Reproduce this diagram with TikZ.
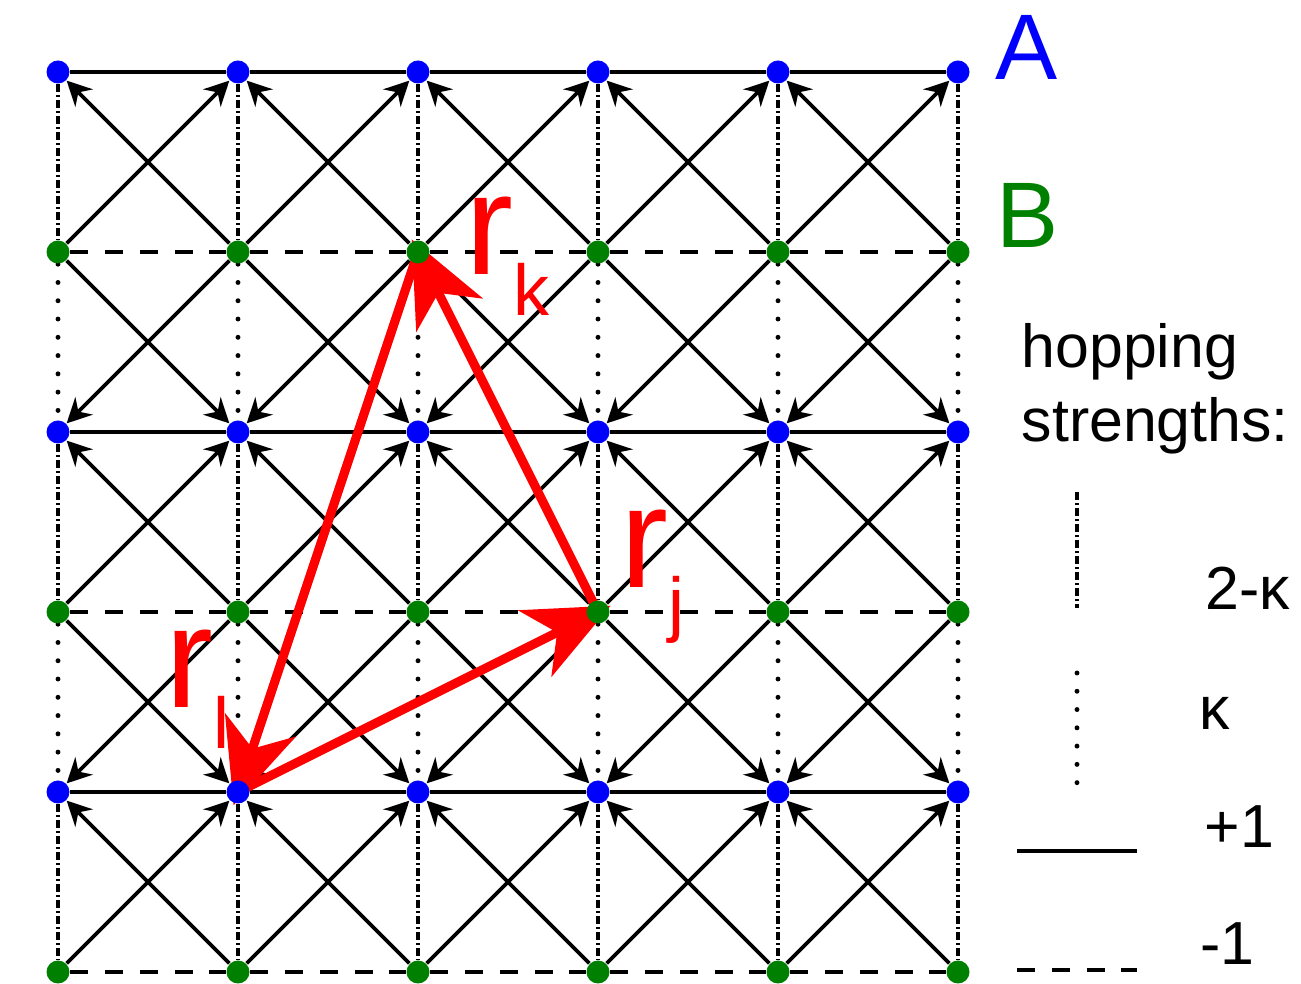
\documentclass[tikz,border=0pt]{standalone}
\usepackage{fontspec}
\setmainfont{Liberation Sans}
\usetikzlibrary{arrows.meta}

\definecolor{siteblue}{RGB}{0,0,255}
\definecolor{sitegreen}{RGB}{0,128,0}
\definecolor{vecred}{RGB}{255,0,0}

\pgfdeclarelayer{background}
\pgfsetlayers{background,main}

% position vector with subscript
\newcommand\posvec[1]{r\raisebox{-0.28em}{\fontsize{20.5}{20.5}\selectfont #1}}

\begin{document}
\begin{tikzpicture}[
    siteA/.style={circle, fill=siteblue, inner sep=0pt, minimum size=0.23cm},
    siteB/.style={circle, fill=sitegreen, inner sep=0pt, minimum size=0.23cm},
    hopplus/.style={line width=1.1pt},
    hopminus/.style={line width=1.1pt, dash pattern=on 5.1pt off 4.8pt},
    hoptwo/.style={line width=1.1pt, dash pattern=on 2.3pt off 0.85pt on 0.55pt off 0.85pt},
    hopkappa/.style={line width=1.4pt, line cap=round, dash pattern=on 0pt off 5.2pt},
    hopdiag/.style={line width=1.05pt, -{Stealth[length=7pt,width=7pt]}},
    vecarrow/.style={vecred, line width=2.6pt, -{Stealth[length=24pt,width=21pt,inset=7pt]}, shorten >=-4pt},
    veclabel/.style={text=vecred, anchor=base west, inner sep=0pt, font=\fontsize{41}{41}\selectfont},
    sublabel/.style={anchor=base west, inner sep=0pt, font=\fontsize{26.5}{26.5}\selectfont},
    keylabel/.style={anchor=base west, inner sep=0pt, font=\fontsize{17.3}{21.3}\selectfont}
]

% Canvas
\useasboundingbox (0,0) rectangle (13.01,9.84);

% Spacing of the lattice
\def\gap{1.8}

% Lattice sites: A on even rows, B on odd rows
\foreach \i in {0,...,5} {
  \foreach \j in {0,2,4}
    \node[siteA] (n\i\j) at ({0.58+\gap*\i}, {9.12-\gap*\j}) {};
  \foreach \j in {1,3,5}
    \node[siteB] (n\i\j) at ({0.58+\gap*\i}, {9.12-\gap*\j}) {};
}

\begin{pgfonlayer}{background}
% Horizontal bonds
\foreach \i [evaluate=\i as \k using int(\i+1)] in {0,...,4} {
  \foreach \j in {0,2,4} \draw[hopplus] (n\i\j) -- (n\k\j);
  \foreach \j in {1,3,5} \draw[hopminus] (n\i\j) -- (n\k\j);
}

% Vertical bonds
\foreach \i in {0,...,5} {
  \foreach \j [evaluate=\j as \m using int(\j+1)] in {0,2,4} \draw[hoptwo] (n\i\j) -- (n\i\m);
  \foreach \j [evaluate=\j as \m using int(\j+1)] in {1,3} \draw[hopkappa] (n\i\j) -- (n\i\m);
}

% Diagonal bonds, pointing from B to A
\foreach \i [evaluate=\i as \k using int(\i+1)] in {0,...,4} {
  \foreach \j [evaluate=\j as \m using int(\j+1)] in {0,2,4} {
    \draw[hopdiag] (n\k\m) -- (n\i\j);
    \draw[hopdiag] (n\i\m) -- (n\k\j);
  }
  \foreach \j [evaluate=\j as \m using int(\j+1)] in {1,3} {
    \draw[hopdiag] (n\i\j) -- (n\k\m);
    \draw[hopdiag] (n\k\j) -- (n\i\m);
  }
}

% Red vectors
\draw[vecarrow] (n14.center) -- (n33.center);
\draw[vecarrow] (n33.center) -- (n21.center);
\draw[vecarrow] (n21.center) -- (n14.center);
\end{pgfonlayer}

% Vector labels
\node[veclabel] (rk) at (4.65,7.09) {\posvec{k}};
\node[veclabel] (rj) at (6.20,3.96) {\posvec{j}};
\node[veclabel] (rl) at (1.65,2.76) {\posvec{l}};

% Sublattice labels
\node[sublabel, text=siteblue] (labA) at (9.95,9.04) {A};
\node[sublabel, text=sitegreen] (labB) at (9.96,7.36) {B};

% Legend
\node[keylabel, align=left] (hop) at (10.21,5.42) {hopping\\strengths:};
\draw[hoptwo] (10.77,4.92) -- (10.77,3.76);
\node[keylabel] (ktwo) at (12.05,3.74) {2-κ};
\draw[hopkappa] (10.77,3.11) -- (10.77,1.94);
\node[keylabel] (kone) at (11.99,2.54) {κ};
\draw[hopplus] (10.17,1.33) -- (11.37,1.33);
\node[keylabel] (kplus) at (12.04,1.36) {+1};
\draw[hopminus] (10.17,0.14) -- (11.37,0.14);
\node[keylabel] (kminus) at (12.00,0.19) {-1};

\end{tikzpicture}
\end{document}
